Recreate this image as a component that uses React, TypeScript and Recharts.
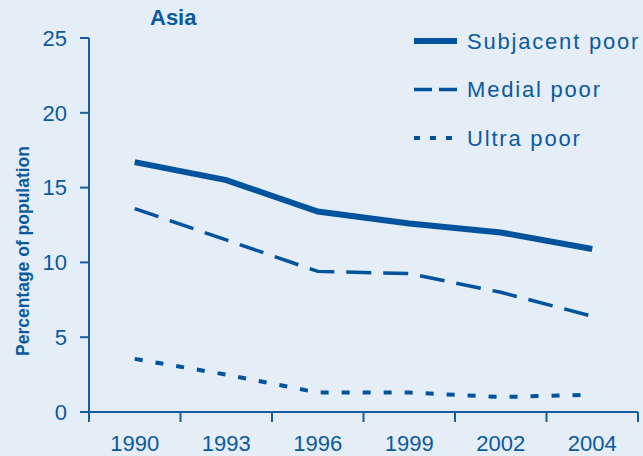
import { Legend, Line, LineChart, XAxis, YAxis } from "recharts";

const years = ["1990", "1993", "1996", "1999", "2002", "2004"];
const subjacentPoor = [16.7, 15.5, 13.4, 12.6, 12.0, 10.9];
const medialPoor = [13.6, 11.5, 9.4, 9.25, 8.0, 6.4];
const ultraPoor = [3.55, 2.5, 1.3, 1.3, 1.0, 1.15];
const yTicks = [0, 5, 10, 15, 20, 25];

const BG = "#e5edf6";
const LINE = "#00539c";
const AXIS = "#1a5d9e";
const TEXT = "#0b5a9f";
const FONT = "'Liberation Sans', Arial, sans-serif";

const W = 643;
const H = 456;
const LEFT = 89;
const RIGHT = 5;
const BAND = (W - LEFT - RIGHT) / years.length;

const data = years.map((year, i) => ({
  x: i + 0.5,
  year,
  subjacent: subjacentPoor[i],
  medial: medialPoor[i],
  ultra: ultraPoor[i],
}));

const series = [
  { key: "subjacent", name: "Subjacent poor", width: 6, dash: undefined, legendDash: undefined, legendWidth: 6 },
  { key: "medial", name: "Medial poor", width: 3.5, dash: "25 12", legendDash: "18 7", legendWidth: 3.5 },
  { key: "ultra", name: "Ultra poor", width: 4, dash: "8 13", legendDash: "6 10", legendWidth: 4 },
];

interface TickProps {
  x?: number;
  y?: number;
  index?: number;
}

function YearTick({ x = 0, y = 0, index = 0 }: TickProps) {
  return (
    <g>
      <line x1={x} y1={y} x2={x} y2={y + 10} stroke={AXIS} strokeWidth={2} />
      {index < years.length && (
        <text
          x={x + BAND / 2}
          y={y + 39}
          textAnchor="middle"
          fill={TEXT}
          fontSize={22}
          fontFamily={FONT}
        >
          {years[index]}
        </text>
      )}
    </g>
  );
}

function SeriesLegend() {
  return (
    <svg width={238} height={140}>
      {series.map((s, i) => {
        const cy = 21 + i * 48.5;
        return (
          <g key={s.key}>
            <line
              x1={9}
              x2={52}
              y1={cy}
              y2={cy}
              stroke={LINE}
              strokeWidth={s.legendWidth}
              strokeDasharray={s.legendDash}
            />
            <text
              x={62}
              y={cy}
              dy="0.36em"
              fill={TEXT}
              fontSize={22}
              fontFamily={FONT}
              letterSpacing={1.8}
            >
              {s.name}
            </text>
          </g>
        );
      })}
    </svg>
  );
}

export default function App() {
  return (
    <div style={{ position: "absolute", left: 0, top: 0, width: W, height: H, background: BG }}>
      <div
        style={{
          position: "absolute",
          left: 150,
          top: 5,
          fontFamily: FONT,
          fontWeight: 700,
          fontSize: 22,
          color: TEXT,
        }}
      >
        Asia
      </div>
      <LineChart width={W} height={H} data={data} margin={{ top: 38, right: RIGHT, left: 0, bottom: 0 }}>
        <XAxis
          dataKey="x"
          type="number"
          domain={[0, years.length]}
          ticks={[0, 1, 2, 3, 4, 5, 6]}
          interval={0}
          height={44}
          stroke={AXIS}
          strokeWidth={2}
          tickLine={false}
          tickSize={0}
          tickMargin={0}
          tick={<YearTick />}
        />
        <YAxis
          domain={[0, 25]}
          ticks={yTicks}
          width={LEFT}
          stroke={AXIS}
          strokeWidth={2}
          tickSize={9}
          tickMargin={13}
          tick={{ fill: TEXT, fontSize: 22, fontFamily: FONT }}
          label={{
            content: () => (
              <text
                transform="translate(29,251) rotate(-90)"
                textAnchor="middle"
                fill={TEXT}
                fontSize={17.5}
                fontWeight={700}
                fontFamily={FONT}
              >
                Percentage of population
              </text>
            ),
          }}
        />
        <Legend
          layout="horizontal"
          verticalAlign="middle"
          align="center"
          content={() => <SeriesLegend />}
          wrapperStyle={{ left: 405, top: 20, width: 238 }}
        />
        {series.map((s) => (
          <Line
            key={s.key}
            dataKey={s.key}
            name={s.name}
            type="linear"
            stroke={LINE}
            strokeWidth={s.width}
            strokeDasharray={s.dash}
            dot={false}
            activeDot={false}
            isAnimationActive={false}
          />
        ))}
      </LineChart>
    </div>
  );
}
